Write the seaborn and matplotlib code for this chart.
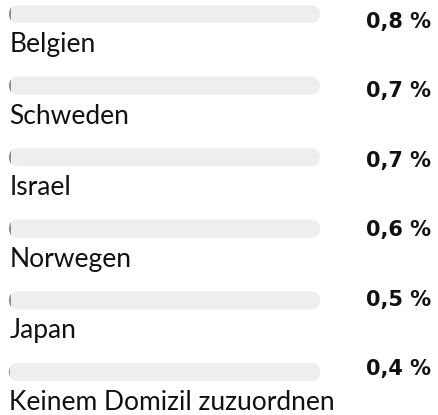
import matplotlib
matplotlib.use("Agg")
import matplotlib.pyplot as plt
import matplotlib.transforms as mtransforms
from matplotlib.patches import FancyBboxPatch
import seaborn as sns
import pandas as pd

# Share of foreign-domiciled holdings by country (percent)
countries = ["Belgien", "Schweden", "Israel", "Norwegen", "Japan",
             "Keinem Domizil zuzuordnen"]
shares = [0.8, 0.7, 0.7, 0.6, 0.5, 0.4]
value_labels = [f"{v:.1f}".replace(".", ",") + " %" for v in shares]
track_max = [100.0] * len(countries)

df = pd.DataFrame({"land": countries, "anteil": shares, "voll": track_max})

sns.set_theme(style="white")
plt.rcParams["font.family"] = ["Lato", "DejaVu Sans"]

W, H, DPI = 439, 415, 100
fig = plt.figure(figsize=(W / DPI, H / DPI), dpi=DPI)
fig.patch.set_facecolor("white")

# geometry in pixels
track_left, track_right = 9, 320
row_top_center, row_step = 14, 71.6
bar_h_px = 18
radius_px = 9

ax = fig.add_axes([track_left / W, 0, (track_right - track_left) / W, 1])
y_top = -row_top_center / row_step
y_bot = (H - row_top_center) / row_step

bar_w = bar_h_px / row_step
sns.barplot(data=df, x="voll", y="land", orient="h", color="#eeeeee",
            width=bar_w, saturation=1, ax=ax)
n_track = len(ax.patches)
sns.barplot(data=df, x="anteil", y="land", orient="h", color="#8c8c8c",
            width=bar_w, saturation=1, ax=ax)
ax.set_xlim(0, 100)
ax.set_ylim(y_bot, y_top)

px_x = (track_right - track_left) / 100.0  # pixels per x unit
px_y = row_step                              # pixels per y unit
aspect = px_x / px_y

patches = list(ax.patches)
tracks = []
for p in patches[:n_track]:
    x, y = p.get_x(), p.get_y()
    w, h = p.get_width(), p.get_height()
    rp = FancyBboxPatch((x, y), w, h,
                        boxstyle=f"round,pad=0,rounding_size={radius_px / px_x}",
                        mutation_aspect=aspect,
                        facecolor=p.get_facecolor(), edgecolor="none",
                        linewidth=0, zorder=1)
    p.remove()
    ax.add_patch(rp)
    tracks.append(rp)
# filled part sits above the track and is clipped to its rounded shape
for p, tr in zip(patches[n_track:], tracks):
    p.set_edgecolor("none")
    p.set_linewidth(0)
    p.set_zorder(2)
    p.set_clip_path(tr)

ax.set_axis_off()

# country names under each track
label_offset = 38 / row_step
for i, name in enumerate(countries):
    ax.text(0.1, i + label_offset, name, ha="left", va="baseline",
            fontsize=19, color="#111111")

# values on the right
trans = mtransforms.blended_transform_factory(fig.transFigure, ax.transData)
for i, lab in enumerate(value_labels):
    base_px = 28 + 69.4 * i
    yv = (base_px - row_top_center) / row_step
    ax.text(431 / W, yv, lab, transform=trans, ha="right", va="baseline",
            fontsize=15, fontweight="bold", color="#111111",
            family=["DejaVu Sans"])

fig.savefig("out.png", dpi=DPI, facecolor="white")
